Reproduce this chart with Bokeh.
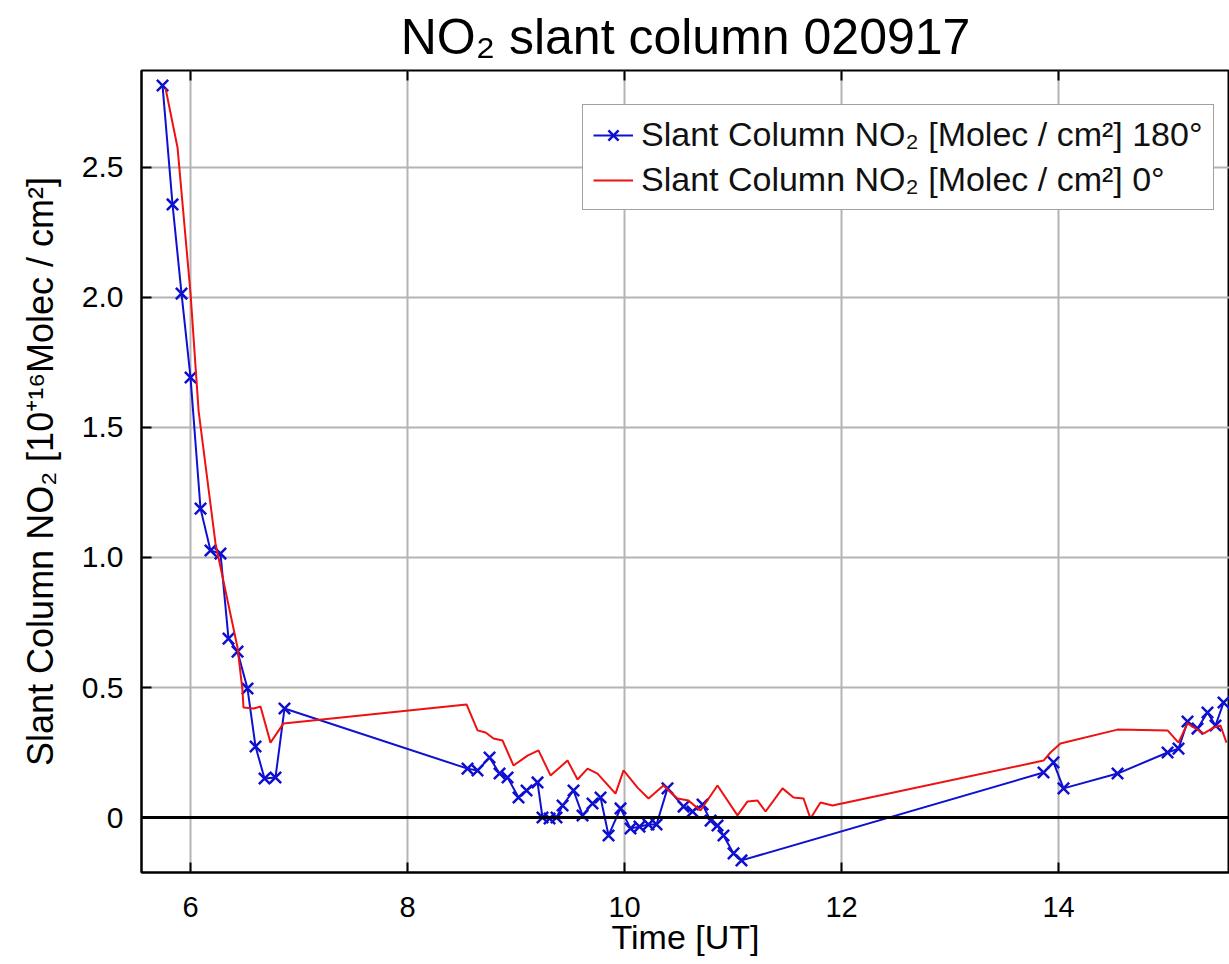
from bokeh.plotting import figure
from bokeh.models import (FixedTicker, LinearAxis, Span, Legend, LegendItem,
                          Range1d)
from bokeh.embed import file_html
from bokeh.resources import INLINE

# Slant column NO2, telescope pointing 180 deg (with markers)
time_180 = [5.742, 5.834, 5.917, 6.000, 6.092, 6.184, 6.276, 6.350, 6.433, 6.525,
            6.599, 6.682, 6.783, 6.866, 8.553, 8.645, 8.756, 8.848, 8.922, 9.023,
            9.097, 9.198, 9.244, 9.309, 9.373, 9.429, 9.530, 9.613, 9.705, 9.779,
            9.853, 9.963, 10.055, 10.138, 10.221, 10.295, 10.396, 10.544, 10.627,
            10.719, 10.793, 10.857, 10.912, 11.005, 11.078, 13.862, 13.954, 14.046,
            14.544, 15.005, 15.106, 15.189, 15.281, 15.373, 15.447, 15.521]
scd_180 = [2.815, 2.358, 2.015, 1.692, 1.188, 1.027, 1.015, 0.688, 0.638, 0.496,
           0.273, 0.150, 0.154, 0.419, 0.188, 0.181, 0.231, 0.169, 0.154, 0.077,
           0.104, 0.135, 0.000, -0.004, 0.000, 0.046, 0.104, 0.008, 0.054, 0.077,
           -0.069, 0.035, -0.042, -0.035, -0.027, -0.027, 0.112, 0.042, 0.023,
           0.050, -0.012, -0.031, -0.069, -0.138, -0.165, 0.173, 0.212, 0.112,
           0.169, 0.250, 0.265, 0.369, 0.342, 0.404, 0.354, 0.442]

# Slant column NO2, telescope pointing 0 deg (line only)
time_0 = [5.770, 5.880, 6.000, 6.074, 6.230, 6.433, 6.479, 6.488, 6.581, 6.645,
          6.737, 6.857, 8.544, 8.645, 8.719, 8.793, 8.876, 8.977, 9.106, 9.207,
          9.318, 9.475, 9.567, 9.659, 9.751, 9.917, 9.991, 10.120, 10.221, 10.359,
          10.488, 10.590, 10.700, 10.857, 11.041, 11.134, 11.226, 11.300, 11.456,
          11.558, 11.650, 11.714, 11.806, 11.917, 13.862, 13.926, 14.018, 14.544,
          15.005, 15.106, 15.189, 15.336, 15.429, 15.493, 15.548]
scd_0 = [2.804, 2.577, 2.015, 1.565, 1.054, 0.654, 0.488, 0.423, 0.419, 0.427,
         0.288, 0.362, 0.435, 0.335, 0.327, 0.304, 0.296, 0.200, 0.238, 0.258,
         0.162, 0.219, 0.146, 0.188, 0.169, 0.092, 0.181, 0.115, 0.073, 0.123,
         0.073, 0.065, 0.027, 0.123, 0.008, 0.062, 0.065, 0.023, 0.112,
         0.077, 0.073, -0.004, 0.058, 0.046, 0.219, 0.250, 0.285, 0.338,
         0.335, 0.288, 0.362, 0.323, 0.346, 0.354, 0.288]

x_ticks = [6, 8, 10, 12, 14]
y_ticks = [0, 0.5, 1.0, 1.5, 2.0, 2.5]
y_tick_labels = ["0", "0.5", "1.0", "1.5", "2.0", "2.5"]

FONT = "Liberation Sans"

p = figure(width=1229, height=964, output_backend="svg", toolbar_location=None,
           x_range=Range1d(5.548, 15.576), y_range=Range1d(-0.2115, 2.873),
           min_border_left=141, min_border_right=0, min_border_top=70,
           min_border_bottom=92)

p.title.text = "NO₂ slant column 020917"
p.title.align = "center"
p.title.text_font = FONT
p.title.text_font_size = "50px"
p.title.text_font_style = "normal"
p.title.text_color = "black"
p.title.standoff = 12

p.outline_line_color = "black"
p.outline_line_width = 2
p.background_fill_color = "white"
p.border_fill_color = "white"

# axes with inward ticks
p.xaxis.ticker = FixedTicker(ticks=x_ticks)
p.yaxis.ticker = FixedTicker(ticks=y_ticks)
p.yaxis.major_label_overrides = {v: s for v, s in zip(y_ticks, y_tick_labels)}
for ax in (p.xaxis[0], p.yaxis[0]):
    ax.major_tick_in = 10
    ax.major_tick_out = 0
    ax.minor_tick_in = 0
    ax.minor_tick_out = 0
    ax.major_tick_line_width = 2
    ax.major_tick_line_color = "black"
    ax.axis_line_width = 2
    ax.axis_line_color = "black"
    ax.major_label_text_font = FONT
    ax.major_label_text_color = "black"
    ax.axis_label_text_font = FONT
    ax.axis_label_text_font_style = "normal"
    ax.axis_label_text_color = "black"

p.xaxis.major_label_text_font_size = "29px"
p.yaxis.major_label_text_font_size = "30px"
p.xaxis.axis_label = "Time [UT]"
p.xaxis.axis_label_text_font_size = "34px"
p.xaxis.major_label_standoff = 24
p.xaxis.axis_label_standoff = -2
p.yaxis.axis_label = "Slant Column NO₂ [10⁺¹⁶Molec / cm²]"
p.yaxis.axis_label_text_font_size = "36px"
p.yaxis.major_label_standoff = 18
p.yaxis.axis_label_standoff = 18

# tick marks along the top edge of the frame
top_axis = LinearAxis(ticker=FixedTicker(ticks=x_ticks), major_tick_in=10,
                      major_tick_out=0, minor_tick_in=0, minor_tick_out=0,
                      major_tick_line_width=2, axis_line_color=None,
                      major_label_overrides={t: "" for t in x_ticks},
                      major_label_standoff=0)
p.add_layout(top_axis, "above")

p.xgrid.grid_line_color = "#b4b4b4"
p.xgrid.grid_line_width = 2
p.ygrid.grid_line_color = "#b4b4b4"
p.ygrid.grid_line_width = 2

p.add_layout(Span(location=0, dimension="width", line_color="black", line_width=3))

blue = "#1010d0"
red = "#ee1111"
b_line = p.line(time_180, scd_180, line_color=blue, line_width=2)
b_mark = p.scatter(time_180, scd_180, marker="x", size=16, line_color=blue,
                   line_width=2.5)
r_line = p.line(time_0, scd_0, line_color=red, line_width=2)

legend = Legend(items=[
    LegendItem(label="Slant Column NO₂ [Molec / cm²] 180°", renderers=[b_line, b_mark]),
    LegendItem(label="Slant Column NO₂ [Molec / cm²] 0°", renderers=[r_line]),
], location=(441, 662))
legend.label_text_font = FONT
legend.label_text_font_size = "34px"
legend.label_text_color = "#111111"
legend.label_height = 36
legend.border_line_color = "#444444"
legend.border_line_width = 1.5
legend.background_fill_alpha = 1
legend.glyph_width = 40
legend.glyph_height = 36
legend.spacing = 6
legend.padding = 10
legend.margin = 0
legend.label_standoff = 8
p.add_layout(legend, "center")

open("out.html", "w").write(file_html(p, INLINE))
